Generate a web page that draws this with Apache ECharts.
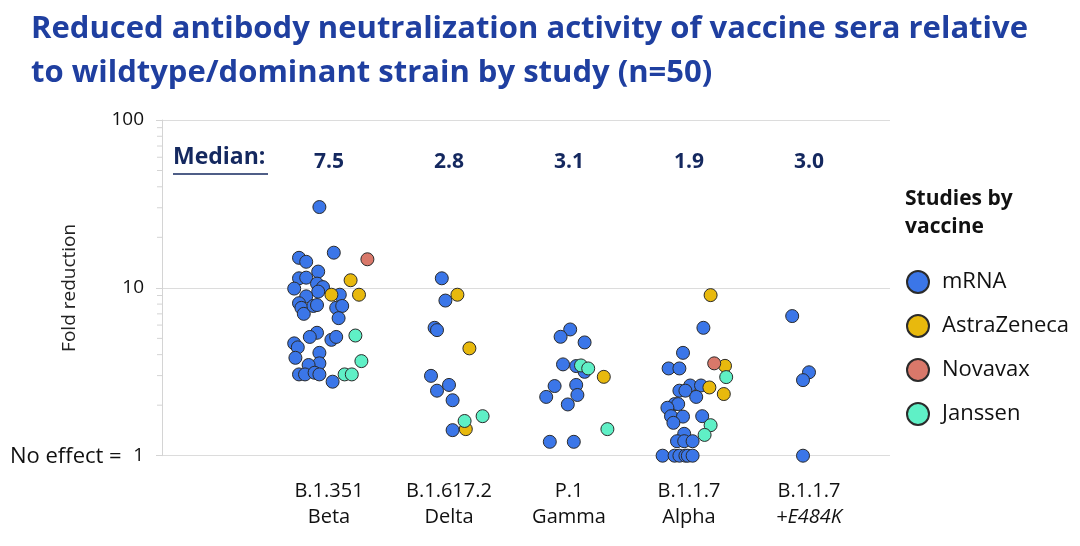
<!DOCTYPE html>
<html>
<head>
<meta charset="utf-8">
<script src="https://cdn.jsdelivr.net/npm/echarts@6/dist/echarts.min.js"></script>
<style>
html,body{margin:0;padding:0;background:#fff;}
#chart{width:1080px;height:546px;}
</style>
</head>
<body>
<div id="chart"></div>
<script>
// ---- data ----
const categoryTop = ['B.1.351', 'B.1.617.2', 'P.1', 'B.1.1.7', 'B.1.1.7'];
const categoryBottom = ['Beta', 'Delta', 'Gamma', 'Alpha', '+E484K'];
const medians = [7.5, 2.8, 3.1, 1.9, 3.0];
const yTicks = [1, 10, 100];
const minorTicks = [2, 3, 4, 5, 6, 7, 8, 9, 20, 30, 40, 50, 60, 70, 80, 90];
const vaccineNames = ['mRNA', 'AstraZeneca', 'Novavax', 'Janssen'];

// [category index, horizontal jitter, fold reduction]
const mrna = [
  [0,-0.08,30.3],[0,0.04,16.2],[0,-0.25,15.1],[0,-0.19,14.3],[0,-0.09,12.5],[0,-0.25,11.4],[0,-0.19,11.5],
  [0,-0.29,9.9],[0,-0.10,10.6],[0,-0.05,10.1],[0,-0.09,9.5],[0,0.09,9.1],[0,-0.19,8.9],[0,-0.25,8.1],
  [0,-0.23,7.6],[0,-0.21,7.0],[0,-0.13,7.8],[0,-0.10,7.9],[0,0.06,7.6],[0,0.11,7.8],[0,0.08,6.6],
  [0,-0.10,5.4],[0,-0.16,5.1],[0,0.02,4.9],[0,0.06,5.1],[0,-0.29,4.67],[0,-0.26,4.42],[0,-0.28,3.83],
  [0,-0.08,4.10],[0,-0.08,3.55],[0,-0.17,3.47],[0,-0.25,3.05],[0,-0.20,3.05],[0,-0.12,3.12],[0,-0.08,3.05],[0,0.03,2.76],
  [1,-0.06,11.4],[1,-0.03,8.4],[1,-0.12,5.78],[1,-0.10,5.6],[1,-0.15,2.99],[1,0.00,2.64],[1,-0.10,2.44],[1,0.03,2.14],[1,0.03,1.42],
  [2,0.01,5.65],[2,-0.07,5.11],[2,0.13,4.73],[2,-0.05,3.50],[2,0.06,3.42],[2,0.13,3.16],[2,-0.12,2.60],[2,0.06,2.64],
  [2,0.07,2.30],[2,-0.19,2.24],[2,-0.01,2.02],[2,-0.16,1.21],[2,0.04,1.21],
  [3,0.12,5.78],[3,-0.05,4.10],[3,-0.17,3.31],[3,-0.08,3.31],[3,0.01,2.62],[3,0.10,2.62],[3,-0.08,2.44],[3,-0.03,2.44],
  [3,0.06,2.24],[3,-0.12,2.03],[3,-0.09,2.03],[3,-0.18,1.93],[3,-0.15,1.72],[3,-0.05,1.71],[3,-0.13,1.57],[3,0.11,1.72],
  [3,-0.04,1.35],[3,-0.10,1.22],[3,-0.04,1.22],[3,0.03,1.22],[3,-0.22,1.0],[3,-0.12,1.0],[3,-0.08,1.0],[3,-0.03,1.0],[3,-0.01,1.0],[3,0.03,1.0],
  [4,-0.14,6.79],[4,0.00,3.14],[4,-0.05,2.82],[4,-0.05,1.0]
];
const astraZeneca = [
  [0,0.18,11.1],[0,0.02,9.1],[0,0.25,9.1],
  [1,0.07,9.1],[1,0.17,4.36],[1,0.14,1.44],
  [2,0.29,2.95],
  [3,0.18,9.05],[3,0.30,3.43],[3,0.17,2.55],[3,0.29,2.33]
];
const novavax = [
  [0,0.32,14.8],
  [3,0.21,3.55]
];
const janssen = [
  [0,0.22,5.2],[0,0.27,3.66],[0,0.13,3.05],[0,0.19,3.05],
  [1,0.13,1.61],[1,0.28,1.72],
  [2,0.10,3.45],[2,0.16,3.31],[2,0.32,1.44],
  [3,0.31,2.94],[3,0.18,1.52],[3,0.13,1.33]
];

// ---- layout / style ----
const GRID_LEFT = 162, GRID_RIGHT_X = 890, FIRST_CENTER = 329, CAT_STEP = 120;
const X_MIN = -(FIRST_CENTER - GRID_LEFT) / CAT_STEP;
const X_MAX = (GRID_RIGHT_X - FIRST_CENTER) / CAT_STEP;
const MEDIAN_LEVEL = 56;
const colors = ['#3b76e8', '#e8b90d', '#d9786a', '#5ff0c6'];
const NAVY = '#14285f';

const toPts = arr => arr.map(([c, j, v]) => [c + j, v]);

const pointSeries = [mrna, astraZeneca, novavax, janssen].map((arr, i) => ({
  name: vaccineNames[i],
  type: 'scatter',
  data: toPts(arr),
  symbol: 'circle',
  symbolSize: 13,
  clip: false,
  z: 5,
  itemStyle: { color: colors[i], borderColor: '#2b2b2b', borderWidth: 1, opacity: 1 },
  emphasis: { disabled: true }
}));

const chart = echarts.init(document.getElementById('chart'), null, { renderer: 'canvas' });
chart.setOption({
  animation: false,
  backgroundColor: '#ffffff',
  grid: { left: GRID_LEFT, right: 1080 - GRID_RIGHT_X, top: 120, bottom: 90.3, containLabel: false },
  xAxis: {
    type: 'value',
    min: X_MIN,
    max: X_MAX,
    axisLine: { show: false },
    axisTick: { show: false },
    splitLine: { show: false },
    axisLabel: {
      customValues: [0, 1, 2, 3, 4],
      margin: 23,
      formatter: v => {
        const i = Math.round(v);
        return i === 4 ? '{a|' + categoryTop[i] + '}\n{i|' + categoryBottom[i] + '}'
                       : '{a|' + categoryTop[i] + '}\n{a|' + categoryBottom[i] + '}';
      },
      rich: {
        a: { fontFamily: 'Open Sans', fontSize: 20, color: '#111', lineHeight: 26 },
        i: { fontFamily: 'Open Sans', fontSize: 20, fontStyle: 'italic', color: '#111', lineHeight: 26 }
      }
    }
  },
  yAxis: {
    type: 'log',
    logBase: 10,
    min: yTicks[0],
    max: yTicks[yTicks.length - 1],
    name: 'Fold reduction',
    nameLocation: 'middle',
    nameGap: 83,
    nameRotate: 90,
    nameTextStyle: { fontFamily: 'Open Sans', fontSize: 19, color: '#222' },
    axisLine: { show: true, onZero: false, lineStyle: { color: '#d4d4d4', width: 1 } },
    axisTick: { show: true, length: 6, lineStyle: { color: '#d4d4d4' } },
    splitLine: { show: true, lineStyle: { color: '#dcdcdc', width: 1.2 } },
    axisLabel: { fontFamily: 'Open Sans', fontSize: 19, color: '#111', margin: 18 }
  },
  legend: {
    data: vaccineNames,
    orient: 'vertical',
    left: 901,
    top: 265,
    icon: 'circle',
    itemWidth: 22,
    itemHeight: 22,
    itemGap: 20,
    selectedMode: false,
    textStyle: { fontFamily: 'Open Sans', fontSize: 22, color: '#111', padding: [0, 0, 0, 8] }
  },
  graphic: [
    { type: 'text', left: 31, top: 7,
      style: { text: 'Reduced antibody neutralization activity of vaccine sera relative\nto wildtype/dominant strain by study (n=50)',
               fontFamily: 'Open Sans', fontWeight: 'bold', fontSize: 31, lineHeight: 44, fill: '#1f3fa0' } },
    { type: 'text', left: 173, top: 146,
      style: { text: 'Median:', fontFamily: 'Open Sans', fontWeight: 'bold', fontSize: 23, fill: NAVY } },
    { type: 'line', shape: { x1: 173, y1: 174, x2: 268, y2: 174 }, style: { stroke: NAVY, lineWidth: 1.6 } },
    { type: 'text', left: 10, top: 446,
      style: { text: 'No effect =', fontFamily: 'Open Sans', fontSize: 22, fill: '#111' } },
    { type: 'text', left: 905, top: 185,
      style: { text: 'Studies by\nvaccine', fontFamily: 'Open Sans', fontWeight: 'bold', fontSize: 21, lineHeight: 28, fill: '#111' } }
  ],
  series: [
    {
      name: 'minorTicks',
      type: 'custom',
      silent: true,
      data: minorTicks.map(v => [X_MIN, v]),
      encode: { x: 0, y: 1 },
      clip: false,
      renderItem: (params, api) => {
        const p = api.coord([api.value(0), api.value(1)]);
        return { type: 'line', shape: { x1: p[0] - 5, y1: p[1], x2: p[0], y2: p[1] },
                 style: { stroke: '#d4d4d4', lineWidth: 1 } };
      }
    },
    {
      name: 'medians',
      type: 'scatter',
      silent: true,
      symbolSize: 0,
      clip: false,
      itemStyle: { color: 'transparent', opacity: 1 },
      data: medians.map((m, i) => ({ value: [i, MEDIAN_LEVEL], label: { formatter: m.toFixed(1) } })),
      label: { show: true, position: 'inside', fontFamily: 'Open Sans', fontWeight: 'bold', fontSize: 21,
               color: NAVY, opacity: 1, textBorderWidth: 0, textBorderColor: 'transparent' }
    },
    ...pointSeries
  ]
});
</script>
</body>
</html>
